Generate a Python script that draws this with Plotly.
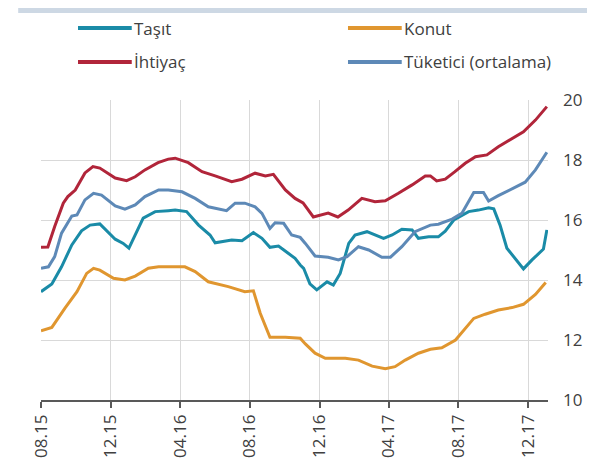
import plotly.graph_objects as go

# Kredi faiz oranlari (%), haftalik
tasit_dates = ['2015-08-01', '2015-08-20', '2015-09-06', '2015-09-24', '2015-10-11', '2015-10-26',
               '2015-11-12', '2015-12-09', '2015-12-23', '2016-01-02', '2016-01-27', '2016-02-17',
               '2016-03-11', '2016-03-23', '2016-04-12', '2016-05-03', '2016-05-23', '2016-06-01',
               '2016-06-30', '2016-07-18', '2016-08-07', '2016-08-22', '2016-09-05', '2016-09-20',
               '2016-10-07', '2016-10-19', '2016-10-28', '2016-11-03', '2016-11-14', '2016-11-26',
               '2016-12-14', '2016-12-25', '2017-01-06', '2017-01-21', '2017-02-01', '2017-02-22',
               '2017-03-23', '2017-04-07', '2017-04-24', '2017-05-12', '2017-05-23', '2017-06-10',
               '2017-06-27', '2017-07-09', '2017-07-24', '2017-08-19', '2017-09-05', '2017-09-23',
               '2017-10-02', '2017-10-13', '2017-10-25', '2017-11-09', '2017-11-23', '2017-12-08',
               '2017-12-28', '2018-01-03']
tasit = [13.61, 13.87, 14.44, 15.17, 15.64, 15.83,
         15.87, 15.36, 15.22, 15.06, 16.06, 16.28,
         16.31, 16.33, 16.28, 15.83, 15.50, 15.24,
         15.33, 15.31, 15.58, 15.39, 15.09, 15.13,
         14.89, 14.72, 14.50, 14.39, 13.87, 13.67,
         13.94, 13.83, 14.22, 15.22, 15.50, 15.61,
         15.39, 15.50, 15.69, 15.67, 15.39, 15.44,
         15.44, 15.63, 16.00, 16.28, 16.33, 16.41,
         16.37, 15.83, 15.06, 14.72, 14.37, 14.67,
         15.03, 15.67]

konut_dates = ['2015-08-01', '2015-08-20', '2015-09-12', '2015-10-03', '2015-10-20', '2015-11-01',
               '2015-11-12', '2015-12-06', '2015-12-26', '2016-01-13', '2016-02-05', '2016-02-23',
               '2016-04-09', '2016-04-27', '2016-05-20', '2016-06-24', '2016-07-23', '2016-08-07',
               '2016-08-19', '2016-09-05', '2016-10-02', '2016-10-28', '2016-11-06', '2016-11-23',
               '2016-12-11', '2017-01-15', '2017-02-07', '2017-03-03', '2017-03-26', '2017-04-12',
               '2017-04-30', '2017-05-23', '2017-06-13', '2017-07-03', '2017-07-27', '2017-08-13',
               '2017-08-28', '2017-09-17', '2017-10-10', '2017-11-03', '2017-11-23', '2017-12-14',
               '2018-01-01']
konut = [12.31, 12.42, 13.06, 13.61, 14.22, 14.39,
         14.33, 14.06, 14.00, 14.13, 14.39, 14.44,
         14.44, 14.28, 13.94, 13.78, 13.61, 13.64,
         12.89, 12.09, 12.09, 12.06, 11.87, 11.56,
         11.39, 11.39, 11.33, 11.13, 11.04, 11.11,
         11.33, 11.56, 11.69, 11.74, 12.00, 12.39,
         12.72, 12.86, 13.00, 13.08, 13.19, 13.52,
         13.92]

ihtiyac_dates = ['2015-08-01', '2015-08-13', '2015-08-25', '2015-09-09', '2015-09-17', '2015-09-30',
                 '2015-10-17', '2015-10-31', '2015-11-12', '2015-12-09', '2015-12-29', '2016-01-13',
                 '2016-01-30', '2016-02-22', '2016-03-11', '2016-03-23', '2016-04-15', '2016-05-09',
                 '2016-06-01', '2016-06-30', '2016-07-18', '2016-08-10', '2016-08-28', '2016-09-11',
                 '2016-10-02', '2016-10-19', '2016-11-02', '2016-11-20', '2016-12-16', '2017-01-02',
                 '2017-01-20', '2017-02-13', '2017-03-08', '2017-03-26', '2017-04-18', '2017-05-12',
                 '2017-06-04', '2017-06-13', '2017-06-24', '2017-07-09', '2017-07-26', '2017-08-13',
                 '2017-08-31', '2017-09-20', '2017-10-10', '2017-11-03', '2017-11-23', '2017-12-14',
                 '2018-01-03']
ihtiyac = [15.09, 15.10, 15.78, 16.56, 16.78, 17.00,
           17.57, 17.78, 17.73, 17.40, 17.31, 17.44,
           17.67, 17.91, 18.03, 18.06, 17.91, 17.61,
           17.47, 17.28, 17.36, 17.56, 17.47, 17.52,
           17.00, 16.72, 16.57, 16.10, 16.23, 16.10,
           16.33, 16.72, 16.61, 16.64, 16.89, 17.17,
           17.47, 17.47, 17.30, 17.36, 17.61, 17.89,
           18.11, 18.17, 18.44, 18.72, 18.94, 19.33,
           19.78]

tuketici_dates = ['2015-08-01', '2015-08-14', '2015-08-25', '2015-09-06', '2015-09-24', '2015-10-03',
                  '2015-10-17', '2015-11-01', '2015-11-15', '2015-12-09', '2015-12-26', '2016-01-13',
                  '2016-01-30', '2016-02-23', '2016-03-11', '2016-04-04', '2016-04-27', '2016-05-20',
                  '2016-06-21', '2016-07-06', '2016-07-23', '2016-08-10', '2016-08-22', '2016-09-05',
                  '2016-09-14', '2016-09-29', '2016-10-13', '2016-10-28', '2016-11-06', '2016-11-23',
                  '2016-12-16', '2017-01-03', '2017-01-18', '2017-02-07', '2017-02-25', '2017-03-20',
                  '2017-04-04', '2017-04-24', '2017-05-17', '2017-06-13', '2017-06-27', '2017-07-21',
                  '2017-08-07', '2017-08-19', '2017-08-28', '2017-09-14', '2017-09-23', '2017-10-10',
                  '2017-11-03', '2017-11-26', '2017-12-14', '2018-01-03']
tuketici = [14.39, 14.44, 14.78, 15.56, 16.13, 16.17,
            16.67, 16.89, 16.83, 16.47, 16.36, 16.50,
            16.78, 17.00, 17.00, 16.94, 16.72, 16.44,
            16.31, 16.56, 16.56, 16.44, 16.22, 15.72,
            15.91, 15.89, 15.50, 15.42, 15.22, 14.80,
            14.76, 14.67, 14.78, 15.11, 15.00, 14.76,
            14.76, 15.11, 15.61, 15.83, 15.86, 16.03,
            16.22, 16.61, 16.92, 16.92, 16.63, 16.81,
            17.03, 17.26, 17.67, 18.26]

tick_dates = ['2015-08-01', '2015-12-01', '2016-04-01', '2016-08-01',
              '2016-12-01', '2017-04-01', '2017-08-01', '2017-12-01']
tick_labels = ['08.15', '12.15', '04.16', '08.16', '12.16', '04.17', '08.17', '12.17']

series = [
    ('Taşıt', tasit_dates, tasit, '#1a8ba7'),
    ('Konut', konut_dates, konut, '#e0962f'),
    ('İhtiyaç', ihtiyac_dates, ihtiyac, '#b1253a'),
    ('Tüketici (ortalama)', tuketici_dates, tuketici, '#5d89b7'),
]

FONT = 'Open Sans'
TEXT_COLOR = '#404040'

fig = go.Figure()
for name, dates, vals, color in series:
    fig.add_trace(go.Scatter(
        x=dates, y=vals, mode='lines', name=name,
        line=dict(color=color, width=3),
        showlegend=False,
    ))

# legend drawn by hand: 2 x 2 grid, long line samples
legend_pos = [(0.073, 1.24), (0.6055, 1.24), (0.073, 1.127), (0.6055, 1.127)]
for (name, _, _, color), (lx, ly) in zip(series, legend_pos):
    fig.add_shape(type='line', xref='paper', yref='paper',
                  x0=lx, x1=lx + 0.106, y0=ly, y1=ly,
                  line=dict(color=color, width=4))
    fig.add_annotation(xref='paper', yref='paper', x=lx + 0.106, y=ly,
                       text=name, showarrow=False, xanchor='left', yanchor='middle',
                       font=dict(family=FONT, size=17, color=TEXT_COLOR))

# thin band at the top of the page
fig.add_shape(type='rect', xref='paper', yref='paper',
              x0=-0.045, x1=1.1, y0=1.29, y1=1.32,
              fillcolor='#cdd8e4', line=dict(width=0), layer='below')

# the page body has an 8px margin, so the figure is shrunk by that much
fig.update_layout(
    width=587, height=455,
    margin=dict(l=33, r=47, t=92, b=63),
    plot_bgcolor='white', paper_bgcolor='white',
    font=dict(family=FONT, size=17, color=TEXT_COLOR),
    xaxis=dict(
        range=['2015-08-01', '2018-01-05'],
        tickmode='array', tickvals=tick_dates, ticktext=tick_labels,
        tickangle=-90, ticks='outside', ticklen=6, tickcolor='#595959', tickwidth=1.5,
        showline=True, linecolor='#595959', linewidth=1.5,
        showgrid=True, gridcolor='#d9d9d9', gridwidth=1,
        zeroline=False, automargin=False,
    ),
    yaxis=dict(
        range=[10, 20], dtick=2, side='right',
        showgrid=True, gridcolor='#d9d9d9', gridwidth=1,
        zeroline=False, ticks='', ticklabelstandoff=14, automargin=False,
    ),
)

fig.write_html("out.html")
